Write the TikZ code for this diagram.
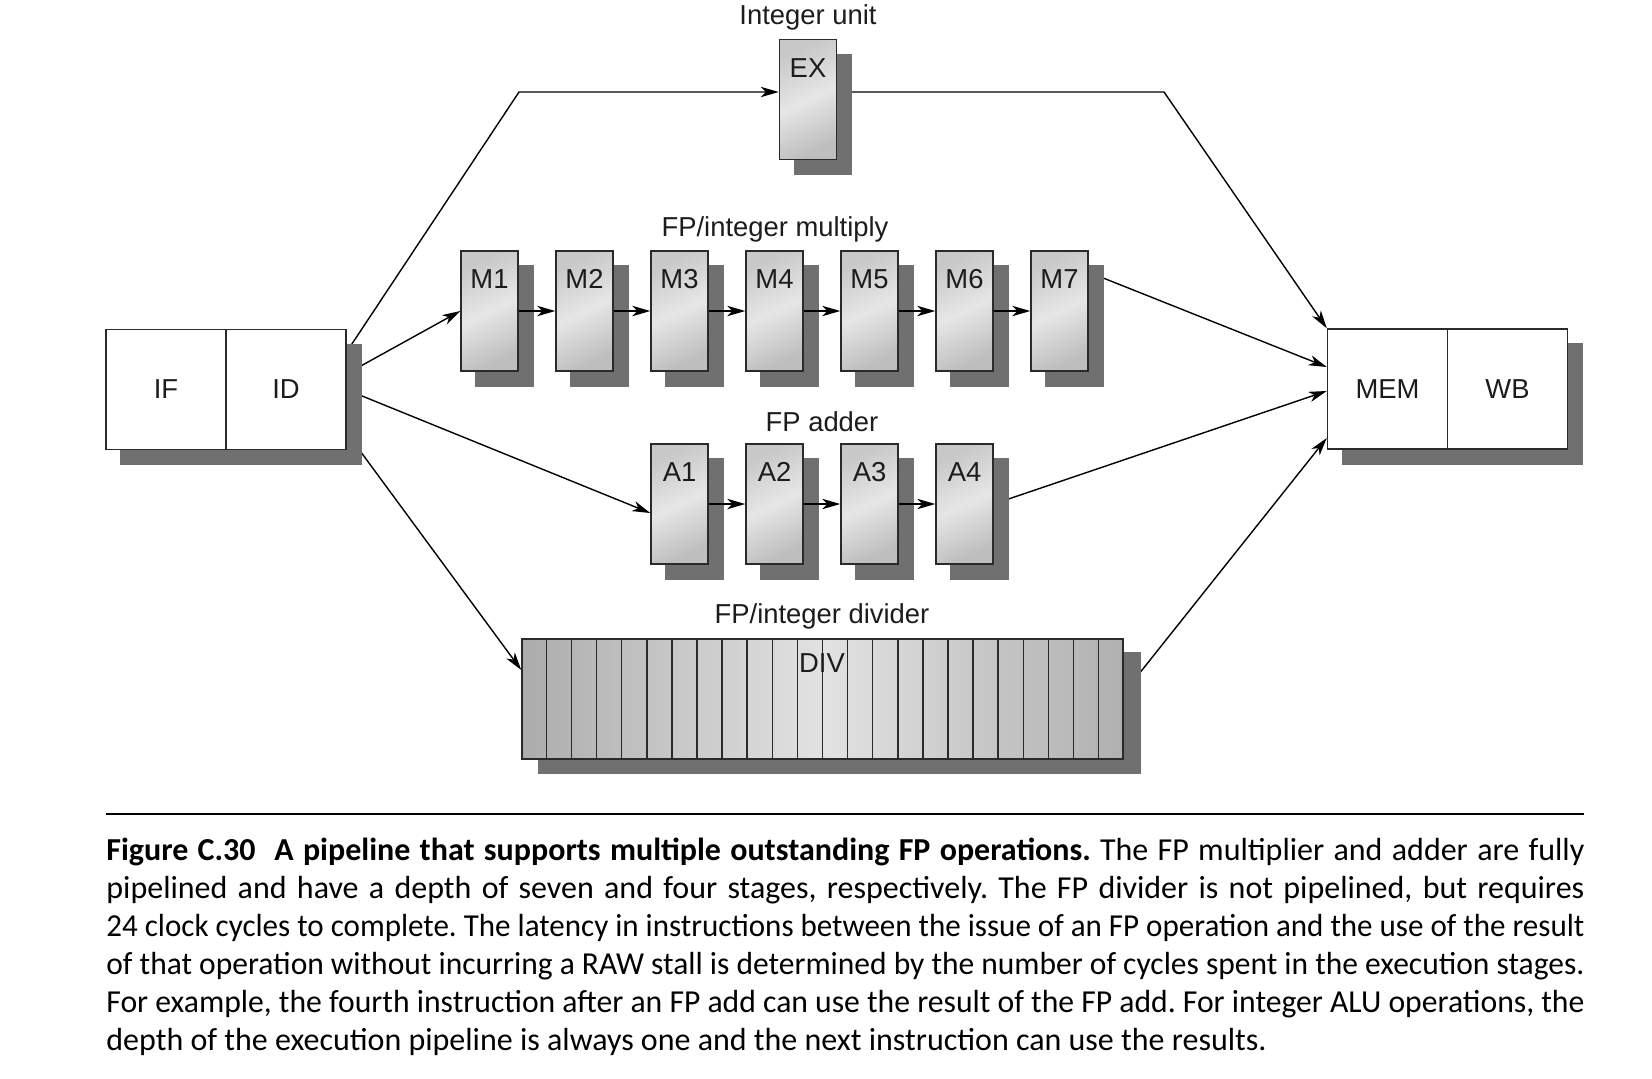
\documentclass[tikz,border=0pt]{standalone}
\usepackage{fontspec}
\setmainfont{Liberation Sans}
\newfontfamily\capfont{Carlito}
\usepackage{graphicx}
\usetikzlibrary{arrows.meta,calc}
\pgfdeclarelayer{connlayer}
\pgfdeclarelayer{shadowlayer}
\pgfsetlayers{connlayer,shadowlayer,main}
\definecolor{shadowc}{HTML}{707070}
\definecolor{boxc}{HTML}{2A2A2A}
\definecolor{txtc}{HTML}{1C1C1C}
\definecolor{gA}{HTML}{C8C8C8}
\definecolor{gB}{HTML}{E6E6E6}
\definecolor{gC}{HTML}{BEBEBE}
\definecolor{dA}{HTML}{ACACAC}
\definecolor{dB}{HTML}{E2E2E2}
\definecolor{dC}{HTML}{B0B0B0}
\newlength\capw \setlength\capw{739pt}
\newlength\natw
\newcommand\capline[1]{\settowidth\natw{#1}\ifdim\natw>\capw\resizebox{\capw}{\height}{#1}\else\makebox[\capw][s]{#1}\fi}
\tikzset{
  lbl/.style={font=\fontsize{13.7}{16}\selectfont, text=txtc, inner sep=0pt},
  stage/.style={draw=boxc, line width=0.75pt, minimum width=28.5pt, minimum height=60pt, inner sep=0pt,
    top color=gA, bottom color=gC, middle color=gB, shading angle=25},
  stagelabel/.style={lbl, anchor=center, yshift=-14.5pt},
  plain/.style={draw=boxc, line width=0.75pt, fill=white, minimum width=60pt, minimum height=60pt, inner sep=0pt,
    font=\fontsize{13.7}{16}\selectfont, text=txtc},
  divbox/.style={draw=boxc, line width=0.75pt, minimum width=300.5pt, minimum height=60pt, inner sep=0pt,
    left color=dA, right color=dC, middle color=dB},
  conn/.style={draw=black, line width=0.7pt},
  arr/.style={conn, -{Stealth[length=9pt,width=5.2pt,inset=2.6pt]}},
  shadowfill/.style={fill=shadowc},
  capstyle/.style={font=\capfont\fontsize{16}{19}\selectfont, text=black, inner sep=0pt, anchor=base west}
}
\begin{document}
\frenchspacing
\begin{tikzpicture}[x=0.5pt,y=-0.5pt]
\useasboundingbox (0,0) rectangle (1652,1078);

% IF / ID
\node[plain] (IF) at (166,389.5) {IF};
\node[plain] (ID) at (286,389.5) {ID};
% MEM / WB
\node[plain] (MEM) at (1387.5,389) {MEM};
\node[plain] (WB) at (1507.5,389) {WB};

% EX
\node[stage, label={[stagelabel]north:EX}] (EX) at (808,99.5) {};
\node[lbl] (intlbl) at (808,17) {Integer unit};

% multiplier
\foreach \i in {1,...,7}{
  \node[stage, label={[stagelabel]north:M\i}] (M\i) at ({489.5+95*(\i-1)},311) {};
}
\node[lbl] (mullbl) at (775,229) {FP/integer multiply};

% adder
\foreach \j in {1,...,4}{
  \node[stage, label={[stagelabel]north:A\j}] (A\j) at ({679.5+95*(\j-1)},504) {};
}
\node[lbl] (addlbl) at (822,422) {FP adder};

% divider
\node[divbox] (DIV) at (822.5,699) {};
\foreach \k in {1,...,23}{
  \draw[boxc, line width=0.75pt] ($(DIV.north west)!\k/24!(DIV.north east)$) -- ($(DIV.south west)!\k/24!(DIV.south east)$);
}
\node[lbl] (divtxt) at (822,663) {DIV};
\node[lbl] (divlbl) at (822,616) {FP/integer divider};

% shadows
\begin{pgfonlayer}{shadowlayer}
  \fill[shadowfill] ($(IF.south west)+(15,15)$) rectangle ($(ID.north east)+(15,15)$);
  \fill[shadowfill] ($(MEM.south west)+(15,15)$) rectangle ($(WB.north east)+(15,15)$);
  \fill[shadowfill] ($(EX.south west)+(15,15)$) rectangle ($(EX.north east)+(15,15)$);
  \foreach \i in {1,...,7}{\fill[shadowfill] ($(M\i.south west)+(15,15)$) rectangle ($(M\i.north east)+(15,15)$);}
  \foreach \j in {1,...,4}{\fill[shadowfill] ($(A\j.south west)+(15,15)$) rectangle ($(A\j.north east)+(15,15)$);}
  \fill[shadowfill] ($(DIV.south west)+(17,14)$) rectangle ($(DIV.north east)+(17,14)$);
\end{pgfonlayer}

% long connectors (under shadows)
\coordinate (bendA) at (519,92);
\coordinate (bendB) at (1164,92);
\begin{pgfonlayer}{connlayer}
  \draw[arr] ($(ID.north east)+(0,23)$) -- (bendA) -- (EX.west |- bendA);
  \draw[arr] (EX.east |- bendA) -- (bendB) -- (MEM.north west);
  \draw[arr] ($(ID.north east)+(0,45)$) -- (M1.west);
  \draw[arr] ($(ID.north east)+(0,61)$) -- ($(A1.west)+(0,9)$);
  \draw[arr] ($(ID.north east)+(0,104)$) -- ($(DIV.west)+(0,-29)$);
  \draw[arr] ($(M7.north east)+(0,22)$) -- ($(MEM.west)+(0,-22)$);
  \draw[arr] (A4.east) -- ($(MEM.west)+(0,2)$);
  \draw[arr] ($(DIV.east)+(0,-6)$) -- ($(MEM.west)+(0,49)$);
\end{pgfonlayer}

% chain arrows
\foreach \i [evaluate=\i as \n using int(\i+1)] in {1,...,6}{
  \draw[arr] (M\i.east) -- (M\n.west);
}
\foreach \j [evaluate=\j as \n using int(\j+1)] in {1,...,3}{
  \draw[arr] (A\j.east) -- (A\n.west);
}

% caption
\coordinate (ruleL) at (106,814);
\coordinate (ruleR) at (1584,814);
\draw[line width=1pt] (ruleL) -- (ruleR);
\node[capstyle] (cap1) at (106,860) {\capline{\textbf{Figure C.30\ \ A pipeline that supports multiple outstanding FP operations.} The FP multiplier and adder are fully}};
\node[capstyle] (cap2) at (106,898) {\capline{pipelined and have a depth of seven and four stages, respectively. The FP divider is not pipelined, but requires}};
\node[capstyle] (cap3) at (106,936) {\capline{24 clock cycles to complete. The latency in instructions between the issue of an FP operation and the use of the result}};
\node[capstyle] (cap4) at (106,974) {\capline{of that operation without incurring a RAW stall is determined by the number of cycles spent in the execution stages.}};
\node[capstyle] (cap5) at (106,1012) {\capline{For example, the fourth instruction after an FP add can use the result of the FP add. For integer ALU operations, the}};
\node[capstyle] (cap6) at (106,1050) {depth of the execution pipeline is always one and the next instruction can use the results.};
\end{tikzpicture}
\end{document}
